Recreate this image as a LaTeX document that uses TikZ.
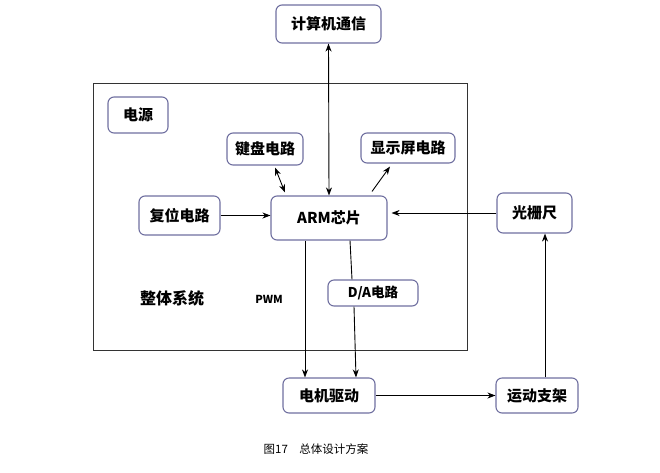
\documentclass[tikz,border=0pt]{standalone}
\usepackage{fontspec}
\setmainfont{Noto Sans CJK SC}
\usetikzlibrary{arrows.meta}
\definecolor{boxline}{RGB}{112,112,160}
\tikzset{
  blockbox/.style={draw=boxline, line width=1.1pt, rounded corners=6pt, fill=white,
    font=\fontsize{15}{17}\selectfont\bfseries, inner sep=0pt},
  link/.style={line width=0.9pt, -{Stealth[length=8pt,width=6pt,inset=2.5pt]}},
  twolink/.style={line width=0.9pt, {Stealth[length=8pt,width=6pt,inset=2.5pt]}-{Stealth[length=8pt,width=6pt,inset=2.5pt]}},
  plain/.style={line width=0.9pt}
}

\begin{document}
\begin{tikzpicture}[x=1pt, y=-1pt]
		%%%%% START %%%%%
		\useasboundingbox (0, 0) rectangle (660, 472);

		% outer system frame
		\draw[line width=0.8pt, color=black!80] (93, 83) rectangle (467, 350);
		\node[font=\fontsize{16}{18}\selectfont\bfseries] (sysname) at (172, 298) {整体系统};
		\node[font=\fontsize{11}{13}\selectfont\bfseries] (pwm) at (269, 299) {PWM};

		% blocks
		\node[blockbox, minimum width=105pt, minimum height=38pt] (comm) at (328.5, 24) {计算机通信};
		\node[blockbox, minimum width=60pt, minimum height=36pt] (power) at (138, 115) {电源};
		\node[blockbox, minimum width=76pt, minimum height=32pt] (keyb) at (265, 149) {键盘电路};
		\node[blockbox, minimum width=94pt, minimum height=30pt] (disp) at (408, 148) {显示屏电路};
		\node[blockbox, minimum width=81pt, minimum height=39pt] (reset) at (179.5, 215.5) {复位电路};
		\node[blockbox, minimum width=116pt, minimum height=44pt] (arm) at (329, 218) {ARM芯片};
		\node[blockbox, minimum width=75pt, minimum height=40pt] (grating) at (534.5, 213) {光栅尺};
		\node[blockbox, minimum width=90pt, minimum height=26pt, font=\fontsize{13.5}{15}\selectfont\bfseries] (dac) at (373, 293) {D/A电路};
		\node[blockbox, minimum width=92pt, minimum height=35pt] (motor) at (329, 395.5) {电机驱动};
		\node[blockbox, minimum width=82pt, minimum height=35pt] (stage) at (537, 395.5) {运动支架};

		% connectors
		\draw[twolink] (comm.south) -- (arm.north);
		\draw[twolink] ([xshift=10pt, yshift=-2pt]keyb.south) -- ([xshift=-44pt, yshift=3pt]arm.north);
		\draw[link] ([xshift=43pt, yshift=4pt]arm.north) -- ([xshift=-18pt, yshift=-3pt]disp.south);
		\draw[link] (reset.east) -- (reset.east -| arm.west);
		\draw[link, shorten >=4pt] (grating.west) -- (grating.west -| arm.east);
		\draw[link] ([xshift=-24pt]arm.south) -- ([xshift=-24pt]arm.south |- motor.north);
		\draw[plain] ([xshift=21pt]arm.south) -- ([xshift=-21pt]dac.north);
		\draw[link] ([xshift=-19pt]dac.south) -- ([xshift=27pt]motor.north);
		\draw[link] (motor.east) -- (stage.west);
		\draw[link] ([xshift=8pt]stage.north) -- ([xshift=8pt]stage.north |- grating.south);

		% caption
		\node[font=\fontsize{11.5}{13}\selectfont] (caption) at (316, 449) {图17\quad 总体设计方案};
		%%%%% END %%%%%
\end{tikzpicture}
\end{document}
